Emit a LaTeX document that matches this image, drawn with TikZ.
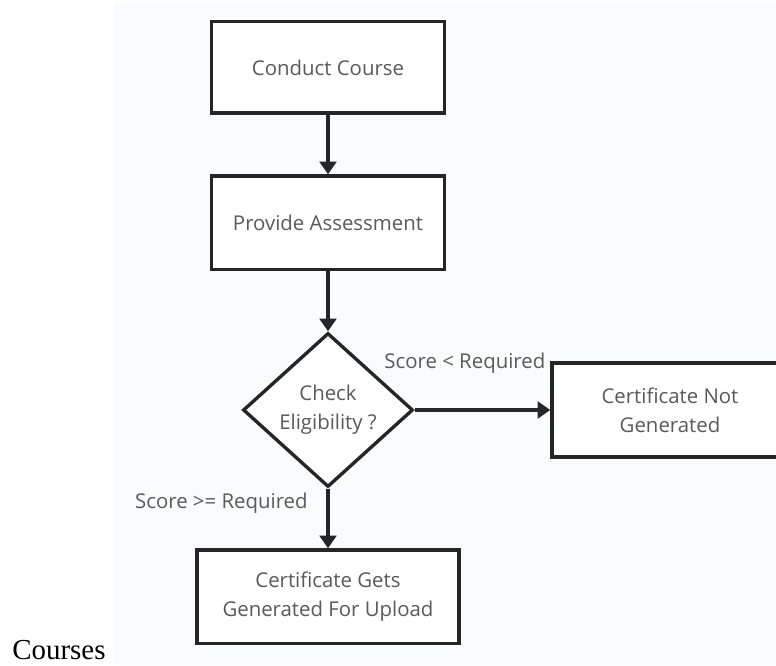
\documentclass[tikz,border=0pt]{standalone}
\usepackage{fontspec}
\setmainfont{Open Sans}
\newfontfamily\captionserif{Liberation Serif}
\usetikzlibrary{shapes.geometric,arrows.meta}
\definecolor{linegray}{HTML}{262626}
\definecolor{textgray}{HTML}{5A5A5A}
\definecolor{panel}{HTML}{FAFBFD}

\begin{document}
\begin{tikzpicture}[
    box/.style={draw=linegray, line width=2.4pt, fill=white, text=textgray,
        align=center, font=\fontsize{14.5}{20.5}\selectfont},
    flow/.style={draw=linegray, line width=2.4pt,
        -{Triangle[width=0.42cm,length=0.32cm]}},
    lbl/.style={text=textgray, font=\fontsize{14.5}{18}\selectfont}
]
        \clip (0,0) rectangle (19.4,16.625);
        \fill[white] (0,0) rectangle (19.4,16.625);
        \fill[panel] (2.85,0) rectangle (19.4,16.575);

        % Conduct Course
        \node [box,
            minimum width=5.83cm,
            minimum height=2.28cm,
        ] (conduct) at (8.2,14.94) {Conduct Course};

        % Provide Assessment
        \node [box,
            minimum width=5.83cm,
            minimum height=2.33cm,
        ] (assess) at (8.2,11.06) {Provide Assessment};

        % Check
        \node [box, diamond,
            inner sep=0pt,
            minimum width=4.25cm,
            minimum height=3.85cm,
        ] (check) at (8.2,6.375) {Check\\Eligibility ?};

        % Not generated
        \node [box,
            minimum width=5.9cm,
            minimum height=2.35cm,
        ] (notgen) at (16.75,6.375) {Certificate Not\\Generated};

        % Upload
        \node [box,
            minimum width=6.55cm,
            minimum height=2.33cm,
        ] (upload) at (8.2,1.71) {Certificate Gets\\Generated For Upload};

        \draw[flow] (conduct)--(assess);
        \draw[flow] (assess)--(check);
        \draw[flow] (check)--(notgen)
        node[lbl,pos=0.37,yshift=1.175cm]{Score < Required};
        \draw[flow] (check)--(upload)
        node[lbl,pos=0.25,left=0.35cm]{Score >= Required};

        \node [anchor=base west, inner sep=0pt,
            font=\captionserif\fontsize{20.6}{24}\selectfont,
        ] (caption) at (0.3,0.13) {Courses};
\end{tikzpicture}
\end{document}
